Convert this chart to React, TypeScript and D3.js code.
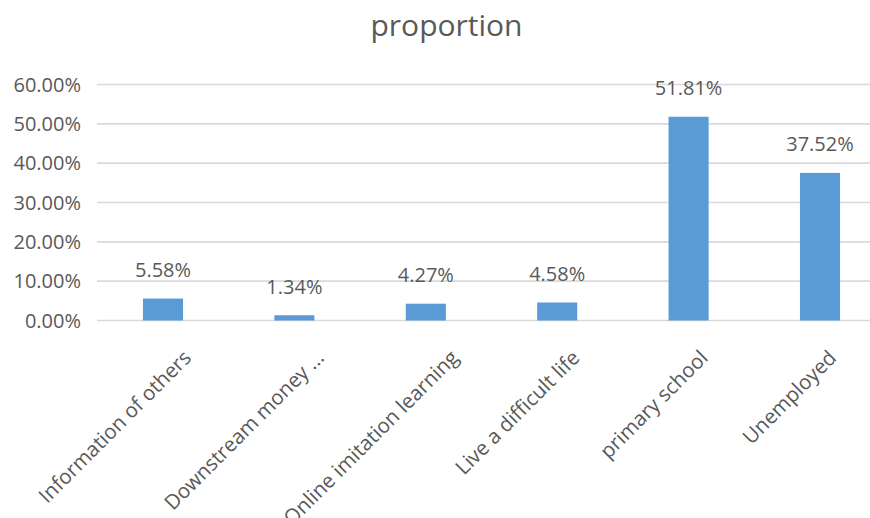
import React, { useMemo } from "react";
import * as d3 from "d3";

const categories: string[] = [
  "Information of others",
  "Downstream money ...",
  "Online imitation learning",
  "Live a difficult life",
  "primary school",
  "Unemployed",
];
const values: number[] = [0.0558, 0.0134, 0.0427, 0.0458, 0.5181, 0.3752];
const valueLabels: string[] = ["5.58%", "1.34%", "4.27%", "4.58%", "51.81%", "37.52%"];
const yTicks: number[] = [0, 0.1, 0.2, 0.3, 0.4, 0.5, 0.6];
const title = "proportion";

const W = 870;
const H = 518;
const FONT = "'Open Sans', sans-serif";
const TEXT = "#595959";
const BAR = "#5B9BD5";
const GRID = "#D9D9D9";
const CAT_FS = 20.5;

function measure(text: string, size: number): number {
  const c = document.createElement("canvas");
  const ctx = c.getContext("2d");
  if (!ctx) return text.length * size * 0.5;
  ctx.font = `${size}px 'Open Sans', sans-serif`;
  return ctx.measureText(text).width;
}

export default function App() {
  const x = d3.scaleBand<string>().domain(categories).range([97.3, 885.7]).padding(0);
  const y = d3.scaleLinear().domain([0, 0.6]).range([320.5, 84.5]);
  const barW = x.bandwidth() * 0.305;
  const fmt = d3.format(".2%");

  const widths = useMemo(() => categories.map((c) => measure(c, CAT_FS)), []);

  return (
    <div style={{ position: "fixed", left: 0, top: 0, width: W, height: H, background: "#fff" }}>
      <svg width={W} height={H} style={{ display: "block" }} fontFamily={FONT}>
        <rect width={W} height={H} fill="#fff" />
        <text x={446.5} y={36} textAnchor="middle" fontSize={30} fill={TEXT}>
          {title}
        </text>
        {yTicks.map((t) => (
          <g key={t}>
            <line x1={97} x2={W} y1={y(t)} y2={y(t)} stroke={GRID} strokeWidth={1.6} />
            <text x={81} y={y(t) + 7.3} textAnchor="end" fontSize={20} fill={TEXT}>
              {fmt(t)}
            </text>
          </g>
        ))}
        {categories.map((c, i) => {
          const cx = (x(c) as number) + x.bandwidth() / 2;
          const extent = 0.7071 * (widths[i] + CAT_FS * 1.35);
          const ex = cx + 0.2 * extent - 3.5;
          return (
            <g key={c}>
              <rect x={cx - barW / 2} y={y(values[i])} width={barW} height={y(0) - y(values[i])} fill={BAR} />
              <text x={cx} y={y(values[i]) - 21.5} textAnchor="middle" fontSize={20} fill={TEXT}>
                {valueLabels[i]}
              </text>
              <text
                transform={`translate(${ex},${359}) rotate(-45)`}
                textAnchor="end"
                fontSize={CAT_FS}
                fill={TEXT}
              >
                {c}
              </text>
            </g>
          );
        })}
      </svg>
    </div>
  );
}
